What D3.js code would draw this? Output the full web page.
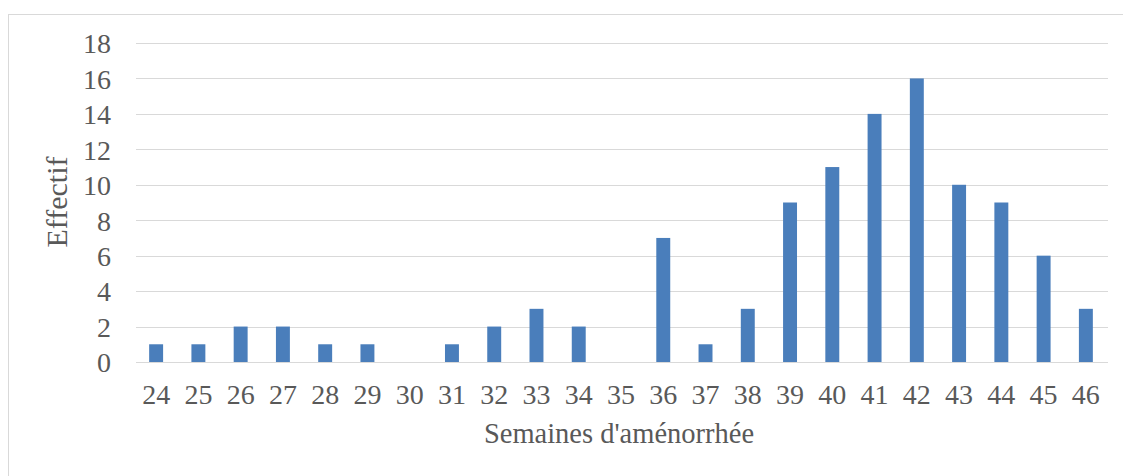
<!DOCTYPE html>
<html><head><meta charset="utf-8">
<script src="https://cdn.jsdelivr.net/npm/d3@7"></script>
<style>
html,body{margin:0;padding:0;background:#fff;}
svg{display:block;}
svg text{font-family:"Liberation Serif","Times New Roman",Times,"DejaVu Serif",serif !important;}
</style></head>
<body>
<svg id="chart" width="1123" height="476"></svg>
<script>
const categories = ["24","25","26","27","28","29","30","31","32","33","34","35","36","37","38","39","40","41","42","43","44","45","46"];
const values = [1,1,2,2,1,1,0,1,2,3,2,0,7,1,3,9,11,14,16,10,9,6,3];
const yTicks = [0,2,4,6,8,10,12,14,16,18];
const xTitle = "Semaines d'aménorrhée";
const yTitle = "Effectif";

(function(){
const svg = d3.select("#chart");
const W = 1123, H = 476;
const mLeft = 135, mRight = 1107, mTop = 43, mBottom = 362;
const textColor = "#595959";

svg.append("rect").attr("x",8.5).attr("y",14.5).attr("width",W).attr("height",H)
  .attr("fill","#fff").attr("stroke","#d9d9d9").attr("stroke-width",1);

const x = d3.scaleBand().domain(categories).range([mLeft,mRight]).paddingInner(0.67).paddingOuter(0.335);
const y = d3.scaleLinear().domain([0,18]).range([mBottom,mTop]);

const grid = svg.append("g");
grid.selectAll("line").data(yTicks).join("line")
  .attr("x1",mLeft+1).attr("x2",mRight+1)
  .attr("y1",d=>Math.round(y(d))+0.5).attr("y2",d=>Math.round(y(d))+0.5)
  .attr("stroke","#d9d9d9").attr("stroke-width",1);

svg.append("g").selectAll("rect").data(values).join("rect")
  .attr("x",(d,i)=>x(categories[i]))
  .attr("width",x.bandwidth())
  .attr("y",d=>y(d))
  .attr("height",d=>y(0)-y(d))
  .attr("fill","#4a7ebb");

const yAxis = d3.axisLeft(y).tickValues(yTicks).tickSize(0).tickPadding(0);
const gy = svg.append("g").attr("transform",`translate(111,0)`).call(yAxis);
gy.select(".domain").remove();
gy.attr("font-family",null);
gy.selectAll("text").attr("font-size",28).attr("fill",textColor).attr("dy","0.35em");

const xAxis = d3.axisBottom(x).tickSize(0).tickPadding(0);
const gx = svg.append("g").attr("transform",`translate(0,${mBottom})`).call(xAxis);
gx.select(".domain").remove();
gx.attr("font-family",null);
gx.selectAll("text").attr("font-size",28).attr("fill",textColor).attr("dy",null).attr("y",42);

svg.append("text").attr("x",619).attr("y",443).attr("text-anchor","middle")
  .attr("font-size",28.5).attr("fill",textColor).text(xTitle);

svg.append("text").attr("transform","translate(67,202) rotate(-90)").attr("text-anchor","middle")
  .attr("font-size",30).attr("fill",textColor).text(yTitle);
})();
</script>
</body></html>
